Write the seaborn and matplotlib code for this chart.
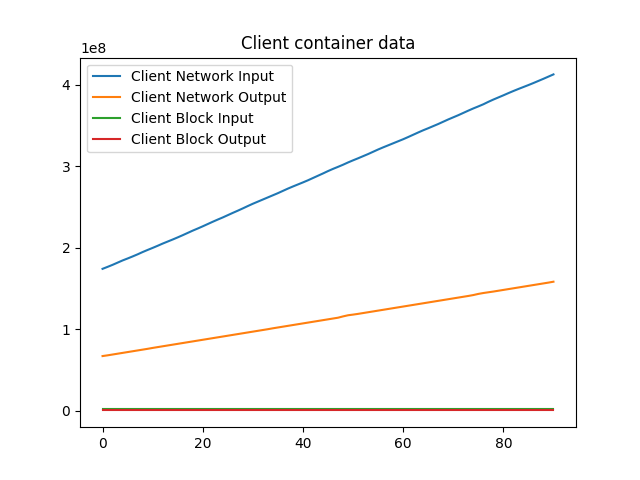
import numpy as np
import pandas as pd
import matplotlib
matplotlib.use("Agg")
import matplotlib.pyplot as plt
import seaborn as sns

# sample index (one reading per step)
steps = list(range(91))

# values, in units of 1e8 bytes
net_input = [
    1.740, 1.764, 1.789, 1.816, 1.843, 1.867, 1.892, 1.918, 1.946, 1.972,
    1.997, 2.023, 2.050, 2.075, 2.100, 2.126, 2.153, 2.181, 2.209, 2.235,
    2.262, 2.290, 2.318, 2.345, 2.371, 2.399, 2.427, 2.454, 2.482, 2.511,
    2.539, 2.565, 2.591, 2.617, 2.643, 2.669, 2.697, 2.725, 2.751, 2.776,
    2.801, 2.827, 2.855, 2.883, 2.911, 2.940, 2.967, 2.992, 3.018, 3.046,
    3.072, 3.097, 3.123, 3.149, 3.177, 3.205, 3.231, 3.256, 3.281, 3.306,
    3.331, 3.358, 3.386, 3.414, 3.441, 3.466, 3.492, 3.518, 3.546, 3.574,
    3.600, 3.626, 3.654, 3.682, 3.709, 3.734, 3.760, 3.790, 3.818, 3.844,
    3.870, 3.897, 3.923, 3.948, 3.972, 3.996, 4.021, 4.047, 4.073, 4.100,
    4.127,
]
net_output = [
    0.669, 0.678, 0.688, 0.698, 0.708, 0.718, 0.728, 0.738, 0.748, 0.758,
    0.769, 0.779, 0.789, 0.799, 0.809, 0.819, 0.829, 0.839, 0.849, 0.859,
    0.869, 0.879, 0.889, 0.899, 0.909, 0.919, 0.929, 0.939, 0.949, 0.959,
    0.969, 0.979, 0.989, 0.999, 1.010, 1.020, 1.030, 1.040, 1.050, 1.060,
    1.070, 1.080, 1.090, 1.100, 1.110, 1.120, 1.130, 1.140, 1.156, 1.170,
    1.178, 1.187, 1.197, 1.207, 1.217, 1.227, 1.237, 1.247, 1.257, 1.267,
    1.277, 1.287, 1.297, 1.307, 1.317, 1.327, 1.337, 1.347, 1.357, 1.367,
    1.377, 1.387, 1.397, 1.407, 1.418, 1.432, 1.443, 1.452, 1.461, 1.471,
    1.481, 1.491, 1.501, 1.511, 1.521, 1.531, 1.541, 1.551, 1.561, 1.571,
    1.582,
]
block_input = [
    0.017, 0.017, 0.017, 0.017, 0.017, 0.017, 0.017, 0.017, 0.017, 0.017,
    0.017, 0.017, 0.017, 0.017, 0.017, 0.017, 0.017, 0.017, 0.017, 0.017,
    0.017, 0.017, 0.017, 0.017, 0.017, 0.017, 0.017, 0.017, 0.017, 0.017,
    0.017, 0.017, 0.017, 0.017, 0.017, 0.017, 0.017, 0.017, 0.017, 0.017,
    0.017, 0.017, 0.017, 0.017, 0.017, 0.017, 0.017, 0.017, 0.017, 0.017,
    0.017, 0.017, 0.017, 0.017, 0.017, 0.017, 0.017, 0.017, 0.017, 0.017,
    0.017, 0.017, 0.017, 0.017, 0.017, 0.017, 0.017, 0.017, 0.017, 0.017,
    0.017, 0.017, 0.017, 0.017, 0.017, 0.017, 0.017, 0.017, 0.017, 0.017,
    0.017, 0.017, 0.017, 0.017, 0.017, 0.017, 0.017, 0.017, 0.017, 0.017,
    0.017,
]
block_output = [
    0.002, 0.002, 0.002, 0.002, 0.002, 0.002, 0.002, 0.002, 0.002, 0.002,
    0.002, 0.002, 0.002, 0.002, 0.002, 0.002, 0.002, 0.002, 0.002, 0.002,
    0.002, 0.002, 0.002, 0.002, 0.002, 0.002, 0.002, 0.002, 0.002, 0.002,
    0.002, 0.002, 0.002, 0.002, 0.002, 0.002, 0.002, 0.002, 0.002, 0.002,
    0.002, 0.002, 0.002, 0.002, 0.002, 0.002, 0.002, 0.002, 0.002, 0.002,
    0.002, 0.002, 0.002, 0.002, 0.002, 0.002, 0.002, 0.002, 0.002, 0.002,
    0.002, 0.002, 0.002, 0.002, 0.002, 0.002, 0.002, 0.002, 0.002, 0.002,
    0.002, 0.002, 0.002, 0.002, 0.002, 0.002, 0.002, 0.002, 0.002, 0.002,
    0.002, 0.002, 0.002, 0.002, 0.002, 0.002, 0.002, 0.002, 0.002, 0.002,
    0.002,
]

series = {
    "Client Network Input": net_input,
    "Client Network Output": net_output,
    "Client Block Input": block_input,
    "Client Block Output": block_output,
}

fig, ax = plt.subplots(figsize=(6.4, 4.8), dpi=100)

for name, vals in series.items():
    df = pd.DataFrame({"step": steps, "bytes": np.array(vals) * 1e8})
    sns.lineplot(x="step", y="bytes", data=df, label=name, ax=ax)

ax.set_title("Client container data")
ax.set_xlabel("")
ax.set_ylabel("")
ax.legend(loc="upper left")

plt.savefig("out.png", dpi=100)
